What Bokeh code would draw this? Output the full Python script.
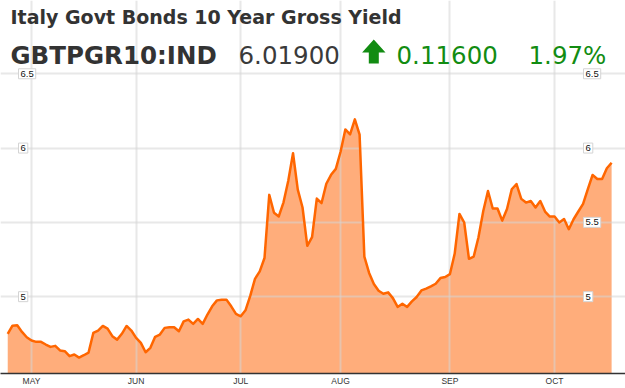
import numpy as np
from bokeh.plotting import figure
from bokeh.models import Range1d, FixedTicker, Label, PolyAnnotation
from bokeh.embed import file_html
from bokeh.resources import INLINE

# Italy 10Y gross yield, one value per trading day (late Apr .. Oct 2011)
apr_vals = [4.750, 4.805, 4.807, 4.763, 4.727]
may_vals = [4.705, 4.696, 4.696, 4.678, 4.662, 4.669, 4.638, 4.633, 4.600, 4.611, 4.590,
            4.606, 4.624, 4.756, 4.772, 4.803, 4.785, 4.734, 4.711, 4.750, 4.803, 4.772]
jun_vals = [4.723, 4.689, 4.626, 4.656, 4.730, 4.745, 4.790, 4.794, 4.794, 4.767, 4.834,
            4.846, 4.817, 4.850, 4.817, 4.880, 4.935, 4.975, 4.980, 4.980, 4.935, 4.884]
jul_vals = [4.868, 4.908, 5.005, 5.120, 5.170, 5.260, 5.685, 5.565, 5.540, 5.635, 5.780,
            5.965, 5.720, 5.600, 5.342, 5.400, 5.660, 5.630, 5.760, 5.820, 5.860]
aug_vals = [5.975, 6.125, 6.092, 6.193, 6.090, 5.270, 5.160, 5.085, 5.040, 5.020, 5.029,
            4.990, 4.931, 4.953, 4.931, 4.968, 4.998, 5.042, 5.054, 5.069, 5.087, 5.125, 5.132]
sep_vals = [5.152, 5.290, 5.557, 5.499, 5.255, 5.270, 5.400, 5.575, 5.711, 5.593, 5.593,
            5.512, 5.590, 5.723, 5.758, 5.658, 5.633, 5.644, 5.600, 5.644, 5.573, 5.539]
oct_vals = [5.539, 5.499, 5.523, 5.454, 5.521, 5.573, 5.624, 5.723, 5.819, 5.792, 5.792,
            5.864, 5.901]

month_ticks = [0, 22, 44, 65, 88, 110]          # trading-day index of each month start
month_labels = ["MAY", "JUN", "JUL", "AUG", "SEP", "OCT"]
left_yticks = [6.5, 6, 5]
right_yticks = [6.5, 6, 5.5, 5]
ygrid_ticks = [5, 5.5, 6, 6.5]

title_text = "Italy Govt Bonds 10 Year Gross Yield"
ticker_text = "GBTPGR10:IND"
last_text = "6.01900"
chg_text = "0.11600"
pct_text = "1.97%"

vals = apr_vals + may_vals + jun_vals + jul_vals + aug_vals + sep_vals + oct_vals
xs = np.arange(-len(apr_vals), -len(apr_vals) + len(vals))

p = figure(width=625, height=388, output_backend="svg", toolbar_location=None,
           x_range=Range1d(-6.52, 124.92), y_range=Range1d(4.483, 6.993),
           y_axis_location=None,
           min_border_left=0, min_border_right=0, min_border_top=0, min_border_bottom=14)
p.outline_line_color = None
p.background_fill_color = "white"

area = p.varea(x=xs, y1=4.3, y2=vals, fill_color="#FFAD7B")
area.level = "image"
p.line(x=xs, y=vals, line_color="#FF6600", line_width=2.5, line_join="round")

p.xaxis.ticker = FixedTicker(ticks=month_ticks)
p.xaxis.major_label_overrides = {t: l for t, l in zip(month_ticks, month_labels)}
p.xaxis.major_tick_line_color = None
p.xaxis.major_tick_out = 0
p.xaxis.major_tick_in = 0
p.xaxis.minor_tick_line_color = None
p.xaxis.minor_tick_out = 0
p.xaxis.minor_tick_in = 0
p.xaxis.axis_line_color = "#333333"
p.xaxis.axis_line_width = 1.5
p.xaxis.major_label_text_font = "Liberation Sans"
p.xaxis.major_label_text_font_size = "8.5px"
p.xaxis.major_label_text_color = "#333333"
p.xaxis.major_label_standoff = 2

p.xgrid.ticker = FixedTicker(ticks=month_ticks)
p.ygrid.ticker = FixedTicker(ticks=ygrid_ticks)
for g in (p.xgrid, p.ygrid):
    g.grid_line_color = "#d6d6d6"
    g.grid_line_alpha = 0.55
    g.grid_line_width = 2

def tick_label(x, v):
    txt = ("%g" % v)
    p.add_layout(Label(x=x, x_units="screen", y=v, text=txt,
                       text_font="Liberation Sans", text_font_size="9.5px",
                       text_color="#111111", text_align="left", text_baseline="middle",
                       background_fill_color="white", border_line_color="#d4d4d4",
                       padding=2))

for v in left_yticks:
    tick_label(18, v)
for v in right_yticks:
    tick_label(583, v)

FH = 374  # frame height in px, screen y measured from frame bottom

def head(x, ybase, text, size, color, bold=False):
    p.add_layout(Label(x=x, y=FH - ybase, x_units="screen", y_units="screen", text=text,
                       text_font="DejaVu Sans", text_font_size=size, text_color=color,
                       text_font_style="bold" if bold else "normal",
                       text_align="left", text_baseline="alphabetic"))

head(10, 17, title_text, "19px", "#333333", bold=True)
head(10, 55.5, ticker_text, "24.5px", "#333333", bold=True)
head(238, 55.5, last_text, "24.5px", "#3a3a3a")
head(396, 55.5, chg_text, "24.5px", "#128C12")
head(528, 55.5, pct_text, "24.5px", "#128C12")

ax = [373.3, 385.0, 378.3, 378.3, 368.3, 368.3, 361.6]
ay = [40.0, 53.0, 53.0, 64.0, 64.0, 53.0, 53.0]
p.add_layout(PolyAnnotation(xs=ax, ys=[FH - y for y in ay], xs_units="screen", ys_units="screen",
                            fill_color="#128C12", fill_alpha=1.0, line_color=None))

open("out.html", "w").write(file_html(p, INLINE))
